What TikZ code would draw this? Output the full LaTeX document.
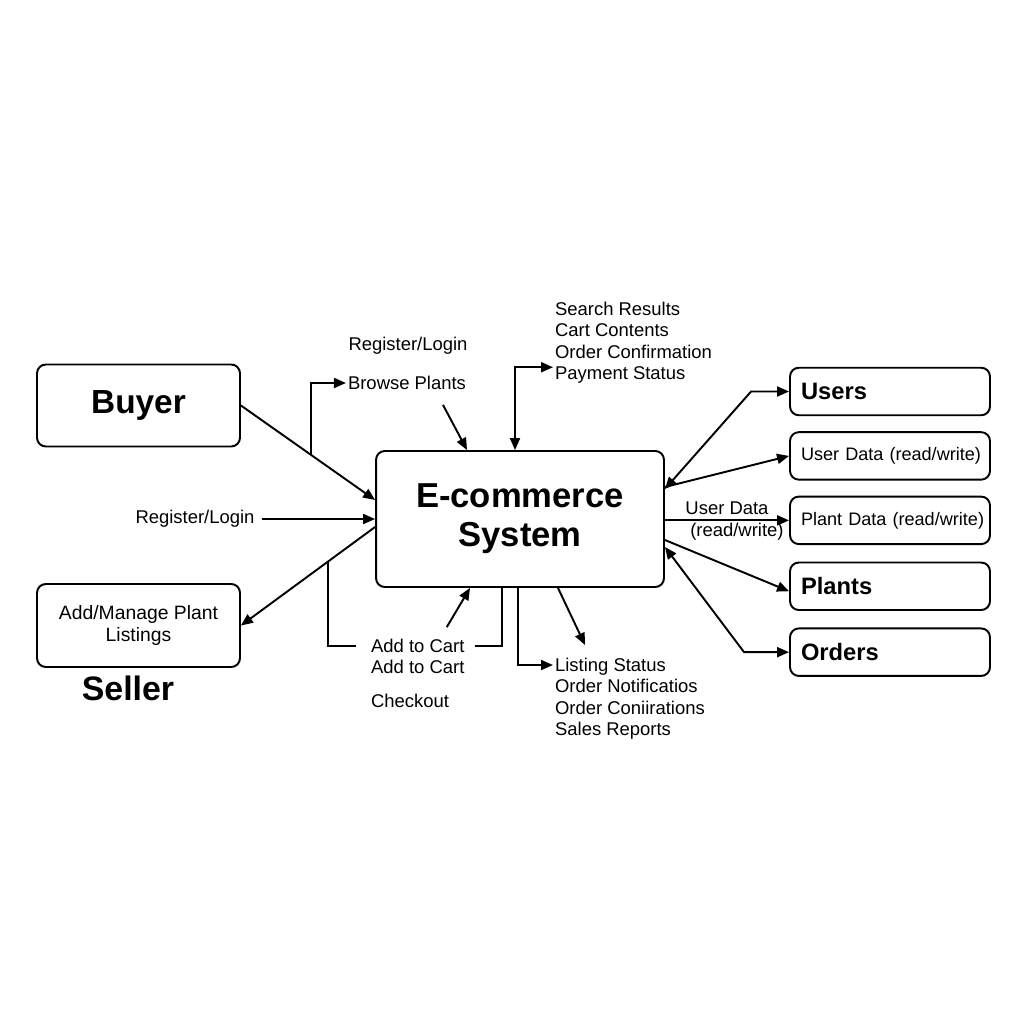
\documentclass[tikz,border=0pt]{standalone}
\usepackage{fontspec}
\setmainfont{Liberation Sans}
\usetikzlibrary{
  arrows.meta,
  positioning,
  calc
}
\tikzset{
  dfbox/.style={
    draw, rounded corners=5pt, line width=1.1pt, align=center
  },
  extbox/.style={dfbox, minimum width=4.06cm, minimum height=1.64cm},
  storebox/.style={dfbox, minimum width=4cm, minimum height=0.95cm, text width=3.56cm, align=left, inner xsep=0.22cm},
  storebig/.style={storebox, font=\bfseries\fontsize{13.5}{15}\selectfont},
  storesmall/.style={storebox, font=\fontsize{10.3}{12}\selectfont},
  lbl/.style={font=\fontsize{10.5}{12.2}\selectfont, align=left, inner sep=1pt},
  flow/.style={-{Triangle[length=2.4mm,width=2mm]}, line width=1.1pt},
  biflow/.style={{Triangle[length=2.4mm,width=2mm]}-{Triangle[length=2.4mm,width=2mm]}, line width=1.1pt},
  link/.style={line width=1.1pt}
}

\begin{document}
\begin{tikzpicture}[x=0.02cm, y=-0.02cm]
  \fill[white] (0,0) rectangle (1024,1024);
  \useasboundingbox (0,0) rectangle (1024,1024);
  \node[extbox, font=\bfseries\fontsize{19}{22}\selectfont] (buyer) at (138.5,405.5) {Buyer};
  \node[extbox, font=\fontsize{11}{13}\selectfont, minimum height=1.66cm] (seller) at (138.5,625.5) {Add/Manage Plant\\Listings};
  \node[font=\bfseries\fontsize{19.3}{22}\selectfont] (sellerlbl) at (128,688) {Seller};
  \node[dfbox, minimum width=5.76cm, minimum height=2.72cm, font=\bfseries\fontsize{19.7}{22}\selectfont] (sys) at (520,519) {E-commerce\\System};
  \node[storebig] (users) at (890,391.5) {Users};
  \node[storesmall, below=0.3cm of users] (udata) {\mbox{User Data (read/write)}};
  \node[storesmall, below=0.3cm of udata] (pdata) {\mbox{Plant Data (read/write)}};
  \node[storebig, below=0.33cm of pdata] (plants) {Plants};
  \node[storebig, below=0.33cm of plants] (orders) {Orders};
  \node[lbl] (reglogin) at (408,346) {Register/Login};
  \node[lbl] (browse) at (407,383) {Browse Plants};
  \node[lbl] (reglogin2) at (195,519) {Register/Login};
  \node[lbl, anchor=north west] (results) at (553,300) {Search Results\\Cart Contents\\Order Confirmation\\Payment Status};
  \node[lbl, anchor=west] (cart1) at (369,646) {Add to Cart};
  \node[lbl, anchor=west] (cart2) at (369,667) {Add to Cart};
  \node[lbl, anchor=west] (checkout) at (369,701) {Checkout};
  \node[lbl, anchor=north west] (listing) at (553,656) {Listing Status\\Order Notificatios\\Order Coniirations\\Sales Reports};
  \draw[flow] (buyer.east) -- coordinate[pos=0.52] (bk) ([yshift=0.38cm]sys.west);
  \draw[flow] (bk) |- (browse.west);
  \draw[flow] ([xshift=0.1cm]reglogin2.east) -- (sys.west);
  \draw[flow] ([yshift=-0.16cm]sys.west) -- coordinate[pos=0.35] (sk) (seller.east);
  \draw[link] (sk) |- ([xshift=-0.26cm]cart1.west);
  \draw[link] ([xshift=0.16cm]cart1.east) -| ([xshift=-0.36cm]sys.south);
  \draw[flow] ([xshift=0.58cm,yshift=0.2cm]cart1.north) -- ([xshift=-1cm]sys.south);
  \draw[flow] ([xshift=0.72cm,yshift=-0.26cm]browse.south) -- ([xshift=-1.06cm]sys.north);
  \draw[biflow] ([xshift=-0.1cm]sys.north) |- ([yshift=0.37cm]results.south west);
  \draw[flow] ([xshift=-0.04cm]sys.south) |- ([yshift=-0.18cm]listing.north west);
  \draw[flow] ([xshift=0.76cm]sys.south) -- ([xshift=0.64cm,yshift=0.22cm]listing.north west);
  \draw[biflow] ([yshift=0.6cm]sys.east) -- ([xshift=-0.76cm]users.west) -- (users.west);
  \draw[flow] ([yshift=0.64cm]sys.east) -- (udata.west);
  \draw[flow] (sys.east |- pdata.west) -- node[lbl, above, pos=0.5, yshift=0.06cm] (udlbl) {User Data} node[lbl, below, pos=0.58] (rwlbl) {(read/write)} (pdata.west);
  \draw[flow] ([yshift=-0.42cm]sys.east) -- ([yshift=-0.1cm]plants.west);
  \draw[biflow] ([yshift=-0.56cm]sys.east) -- ([xshift=-0.9cm]orders.west) -- (orders.west);
\end{tikzpicture}
\end{document}
